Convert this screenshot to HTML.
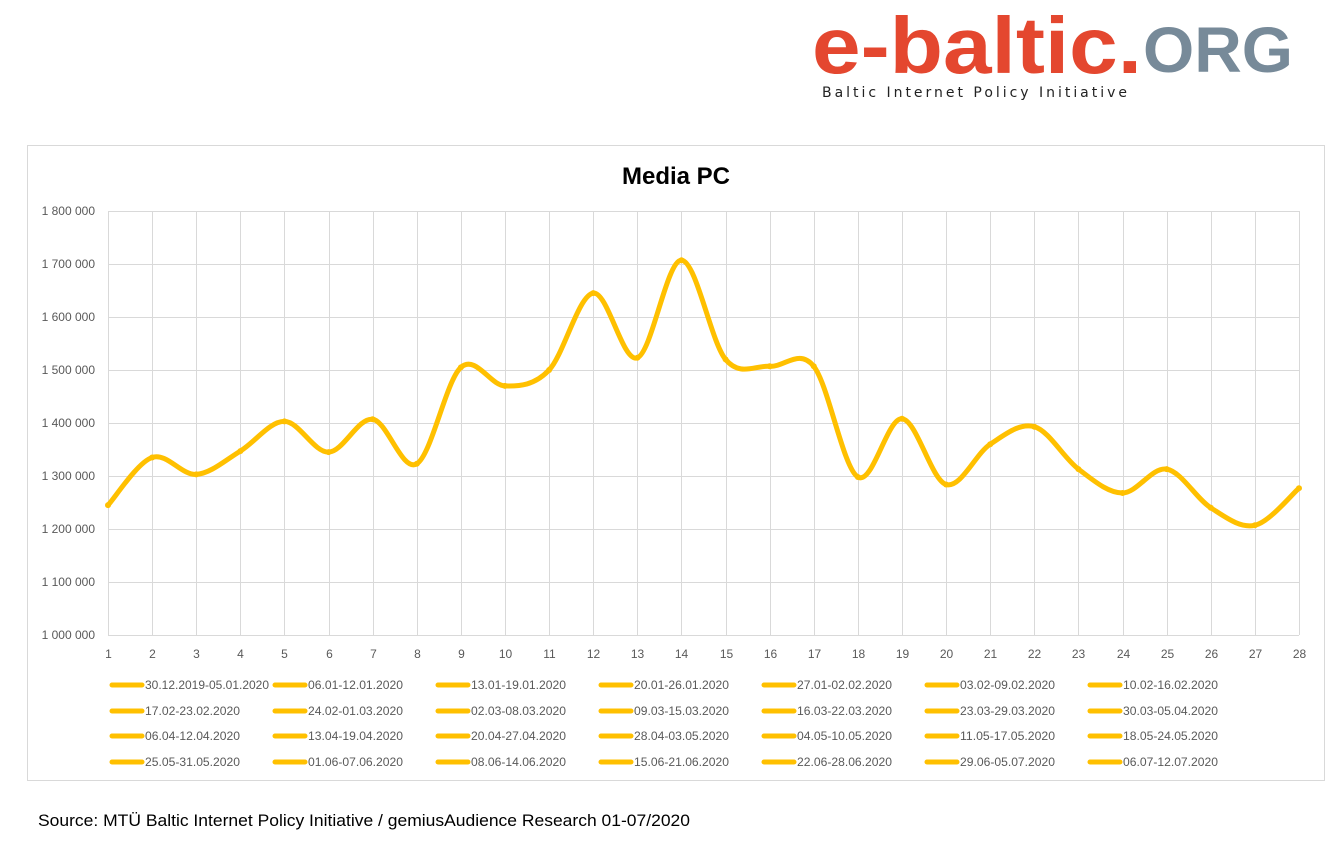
<!DOCTYPE html>
<html><head><meta charset="utf-8"><style>
body{margin:0;background:#fff;width:1340px;height:846px;overflow:hidden;font-family:"Liberation Sans",sans-serif}
</style></head><body>
<svg id="s" width="1340" height="846" xmlns="http://www.w3.org/2000/svg" style="position:absolute;left:0;top:0">
<text x="812" y="73" font-family="Liberation Sans" font-weight="bold" font-size="80" fill="#e4472f" textLength="330" lengthAdjust="spacingAndGlyphs">e-baltic.</text>
<text x="1143" y="72" font-family="Liberation Sans" font-weight="bold" font-size="64" fill="#778a99" textLength="150" lengthAdjust="spacingAndGlyphs">ORG</text>
<text x="822" y="97" font-family="DejaVu Sans" font-size="14" fill="#222" textLength="305" lengthAdjust="spacing">Baltic Internet Policy Initiative</text>
<rect x="27.5" y="145.5" width="1297" height="635" fill="none" stroke="#d9d9d9"/>
<text x="676" y="184" text-anchor="middle" font-family="Liberation Sans" font-weight="bold" font-size="24" fill="#000">Media PC</text>
<g id="grid" stroke="#d9d9d9" stroke-width="1"></g>
<g id="lab" font-family="Liberation Sans" font-size="12" fill="#595959"></g>
<path id="line" fill="none" stroke="#ffc000" stroke-width="5" stroke-linejoin="round" stroke-linecap="round"/>
<g id="dots" fill="#ffc000"></g>
<g id="leg" font-family="Liberation Sans" font-size="11" fill="#595959"></g>
<text x="38" y="826" font-family="Liberation Sans" font-size="17" fill="#000" textLength="652" lengthAdjust="spacingAndGlyphs">Source: MTÜ Baltic Internet Policy Initiative / gemiusAudience Research 01-07/2020</text>
</svg>
<script>
var NS="http://www.w3.org/2000/svg";
function el(p,t,a,txt){var e=document.createElementNS(NS,t);for(var k in a)e.setAttribute(k,a[k]);if(txt!=null)e.textContent=txt;document.getElementById(p).appendChild(e);}
var x0=108,x1=1299,dx=(x1-x0)/27;
for(var i=0;i<=8;i++){var y=635-i*53;el('grid','line',{x1:x0,x2:x1,y1:y+0.5,y2:y+0.5});
el('lab','text',{x:95,y:y+4,'text-anchor':'end'},(1+i/10).toFixed(1).replace('.',' ')+'00 000');}
for(var i=0;i<28;i++){var x=Math.round(x0+i*dx)+0.5;el('grid','line',{x1:x,x2:x,y1:211,y2:635});
el('lab','text',{x:x,y:658,'text-anchor':'middle'},String(i+1));}
var v=[1245,1335,1303,1347,1403,1345,1407,1323,1505,1470,1500,1645,1523,1707,1520,1507,1507,1298,1408,1284,1360,1393,1313,1268,1313,1240,1207,1277];
var P=v.map(function(a,i){return [x0+i*dx,635-(a-1000)*0.53];});
var d='M'+P[0][0]+','+P[0][1];
for(var i=0;i<P.length-1;i++){var p0=P[i-1]||P[i],p1=P[i],p2=P[i+1],p3=P[i+2]||P[i+1];var t=6;
d+=' C'+(p1[0]+(p2[0]-p0[0])/t)+','+(p1[1]+(p2[1]-p0[1])/t)+' '+(p2[0]-(p3[0]-p1[0])/t)+','+(p2[1]-(p3[1]-p1[1])/t)+' '+p2[0]+','+p2[1];}
document.getElementById('line').setAttribute('d',d);
P.forEach(function(p){el('dots','circle',{cx:p[0],cy:p[1],r:3});});
var L=["30.12.2019-05.01.2020","06.01-12.01.2020","13.01-19.01.2020","20.01-26.01.2020","27.01-02.02.2020","03.02-09.02.2020","10.02-16.02.2020","17.02-23.02.2020","24.02-01.03.2020","02.03-08.03.2020","09.03-15.03.2020","16.03-22.03.2020","23.03-29.03.2020","30.03-05.04.2020","06.04-12.04.2020","13.04-19.04.2020","20.04-27.04.2020","28.04-03.05.2020","04.05-10.05.2020","11.05-17.05.2020","18.05-24.05.2020","25.05-31.05.2020","01.06-07.06.2020","08.06-14.06.2020","15.06-21.06.2020","22.06-28.06.2020","29.06-05.07.2020","06.07-12.07.2020"];
var rows=[685,711,736,762];
L.forEach(function(s,i){var c=i%7,r=Math.floor(i/7);var x=110+c*163,y=rows[r];
el('leg','line',{x1:x+2,x2:x+32,y1:y,y2:y,stroke:'#ffc000','stroke-width':5,'stroke-linecap':'round'});
var w=(i==0)?124:95;
el('leg','text',{x:x+35,y:y+4,textLength:w,lengthAdjust:'spacingAndGlyphs','font-size':11.5},s);});
</script>
</body></html>
